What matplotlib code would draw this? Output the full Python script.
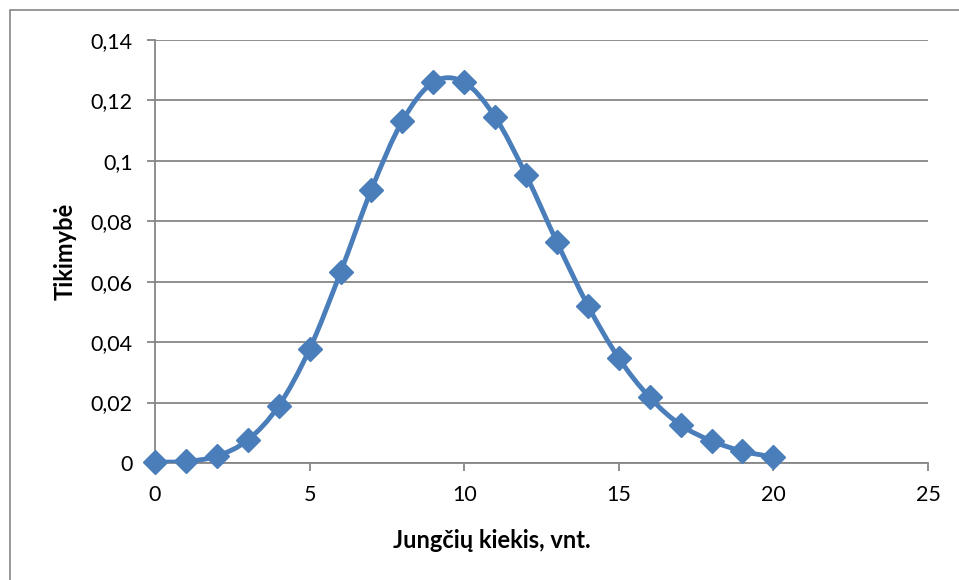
import matplotlib.pyplot as plt
import numpy as np
from matplotlib.path import Path
from matplotlib.patches import PathPatch, Rectangle

plt.rcParams['font.family'] = ['Lato', 'DejaVu Sans']

# jungčių skaičius ir tikimybės
kiekis = [0, 1, 2, 3, 4, 5, 6, 7, 8, 9, 10,
          11, 12, 13, 14, 15, 16, 17, 18, 19, 20]
tikimybe = [0.0003, 0.0005, 0.0023, 0.0076, 0.0189, 0.0377, 0.0631, 0.0905,
            0.1132, 0.1260, 0.1260, 0.1145, 0.0953, 0.0731, 0.0521, 0.0347,
            0.0217, 0.0126, 0.0073, 0.0039, 0.0020]
y_ticks = [0, 0.02, 0.04, 0.06, 0.08, 0.1, 0.12, 0.14]
y_labels = ['0', '0,02', '0,04', '0,06', '0,08', '0,1', '0,12', '0,14']
x_ticks = [0, 5, 10, 15, 20, 25]

spalva = '#4A7EBB'
pilka = '#868686'

fig = plt.figure(figsize=(9.59, 5.8), dpi=100)
ax = fig.add_axes([155 / 959, 117 / 580, 773 / 959, 423 / 580])

# lygi linija kaip Excel'yje - kubinės Bezier kreivės per taškus
pts = np.column_stack([kiekis, tikimybe])
verts = [pts[0]]
codes = [Path.MOVETO]
for i in range(len(pts) - 1):
    p0 = pts[max(i - 1, 0)]
    p1 = pts[i]
    p2 = pts[i + 1]
    p3 = pts[min(i + 2, len(pts) - 1)]
    c1 = p1 + (p2 - p0) / 6
    c2 = p2 - (p3 - p1) / 6
    verts += [c1, c2, p2]
    codes += [Path.CURVE4] * 3
ax.add_patch(PathPatch(Path(verts, codes), facecolor='none', edgecolor=spalva,
                       lw=3.5, capstyle='round', joinstyle='round', zorder=3))
ax.plot(kiekis, tikimybe, linestyle='none', marker='D', ms=12,
        color=spalva, zorder=4, clip_on=False)

ax.set_xlim(0, 25)
ax.set_ylim(0, 0.14)
ax.set_xticks(x_ticks)
ax.set_yticks(y_ticks)
ax.set_yticklabels(y_labels)
ax.grid(axis='y', color=pilka, lw=1.3)
ax.set_axisbelow(True)
for s in ['top', 'right']:
    ax.spines[s].set_visible(False)
for s in ['left', 'bottom']:
    ax.spines[s].set_color(pilka)
    ax.spines[s].set_linewidth(1.3)
ax.tick_params(axis='both', length=6, width=1.3, color=pilka, labelsize=15.5)
ax.tick_params(axis='y', pad=10)
ax.tick_params(axis='x', pad=10)

ax.set_xlabel('Jungčių kiekis, vnt.', fontsize=17, fontweight='bold', labelpad=14)
ax.xaxis.set_label_coords(337 / 773, -0.155)
ax.set_ylabel('Tikimybė', fontsize=17, fontweight='bold', labelpad=10)

# rėmelis aplink diagramą
fig.patches.append(Rectangle((9.5 / 959, -0.1), 1.2, 1.1 - 10.5 / 580,
                             transform=fig.transFigure, fill=False,
                             edgecolor=pilka, lw=1.2))

fig.savefig('out.png', dpi=100)
